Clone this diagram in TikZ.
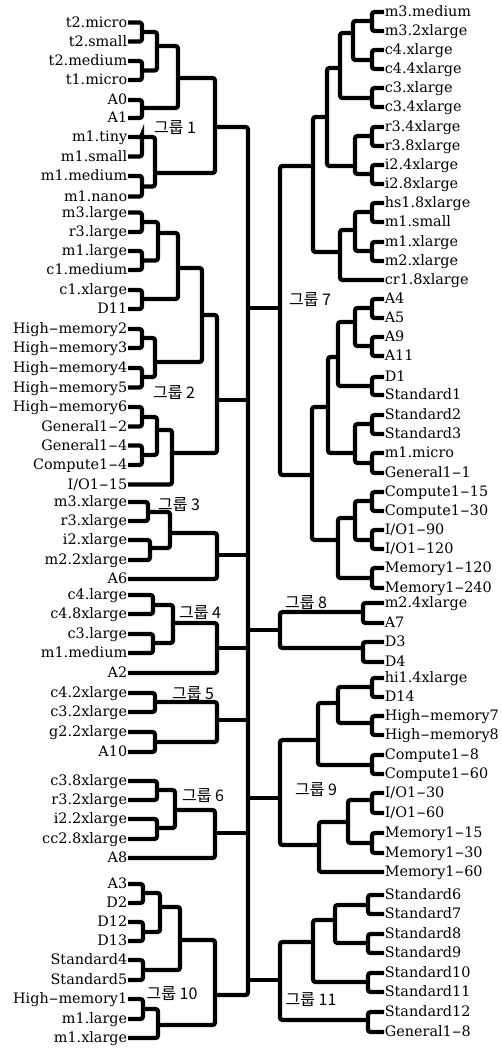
\documentclass[tikz,border=0pt]{standalone}
\usepackage{fontspec}
\setmainfont{DejaVu Serif}
\newfontfamily\kr{Noto Sans CJK KR}
\newcommand\hy{\scalebox{2}[1]{-}}
\newcommand\jn[5]{\coordinate (#5) at (#3,#4); \draw[br] (#1) -| (#5) |- (#2);}
\tikzset{
  br/.style={line width=4.2pt, rounded corners=2.5pt},
  lf/.style={inner sep=0.6pt, text height=9.5pt, text depth=0pt, font=\fontsize{14.4}{15}\selectfont},
  ll/.style={lf, anchor=east},
  rl/.style={lf, anchor=west},
  gl/.style={font=\kr\fontsize{16}{17}\selectfont, inner sep=0pt}
}
\begin{document}
\begin{tikzpicture}[x=1pt,y=-1pt]
\useasboundingbox (0,0) rectangle (502,1051);
% ---------- left leaves ----------
\foreach \n/\y/\t in {
 1/22.5/{t2.micro}, 2/41.5/{t2.small}, 3/61/{t2.medium}, 4/80/{t1.micro}, 5/100/{A0}, 6/118/{A1},
 7/137/{m1.tiny}, 8/156.5/{m1.small}, 9/176/{m1.medium}, 10/196.5/{m1.nano},
 11/212.5/{m3.large}, 12/232/{r3.large}, 13/251/{m1.large}, 14/270/{c1.medium}, 15/290/{c1.xlarge}, 16/309/{D11},
 17/329/{High\hy memory2}, 18/348/{High\hy memory3}, 19/368/{High\hy memory4}, 20/387.5/{High\hy memory5},
 21/407/{High\hy memory6}, 22/426.5/{General1\hy 2}, 23/445.5/{General1\hy 4}, 24/465/{Compute1\hy 4}, 25/484.5/{I/O1\hy 15},
 26/502/{m3.xlarge}, 27/521/{r3.xlarge}, 28/540/{i2.xlarge}, 29/560/{m2.2xlarge}, 30/579/{A6},
 31/595/{c4.large}, 32/614/{c4.8xlarge}, 33/634/{c3.large}, 34/653/{m1.medium}, 35/673/{A2},
 36/693/{c4.2xlarge}, 37/712/{c3.2xlarge}, 38/732/{g2.2xlarge}, 39/752/{A10},
 40/781/{c3.8xlarge}, 41/800/{r3.2xlarge}, 42/819/{i2.2xlarge}, 43/839/{cc2.8xlarge}, 44/858/{A8},
 45/884/{A3}, 46/903/{D2}, 47/922/{D12}, 48/941/{D13}, 49/960/{Standard4}, 50/980/{Standard5},
 51/999/{High\hy memory1}, 52/1019/{m1.large}, 53/1038/{m1.xlarge}}
 \node[ll] (L\n) at (128,\y) {\t};
% ---------- right leaves ----------
\foreach \n/\y/\t in {
 1/12/{m3.medium}, 2/31/{m3.2xlarge}, 3/50/{c4.xlarge}, 4/69/{c4.4xlarge}, 5/88/{c3.xlarge}, 6/107/{c3.4xlarge},
 7/127/{r3.4xlarge}, 8/146/{r3.8xlarge}, 9/165/{i2.4xlarge}, 10/184/{i2.8xlarge},
 11/203/{hs1.8xlarge}, 12/222/{m1.small}, 13/242/{m1.xlarge}, 14/261/{m2.xlarge}, 15/280/{cr1.8xlarge},
 16/299/{A4}, 17/318/{A5}, 18/337/{A9}, 19/356/{A11}, 20/377/{D1}, 21/395/{Standard1},
 22/415/{Standard2}, 23/434/{Standard3}, 24/453/{m1.micro}, 25/473/{General1\hy 1},
 26/492/{Compute1\hy 15}, 27/511/{Compute1\hy 30}, 28/530/{I/O1\hy 90}, 29/549/{I/O1\hy 120},
 30/568/{Memory1\hy 120}, 31/588/{Memory1\hy 240},
 32/603/{m2.4xlarge}, 33/623/{A7}, 34/642/{D3}, 35/662/{D4},
 36/678/{hi1.4xlarge}, 37/697/{D14}, 38/716/{High\hy memory7}, 39/735/{High\hy memory8},
 40/755/{Compute1\hy 8}, 41/774/{Compute1\hy 60}, 42/793/{I/O1\hy 30}, 43/813/{I/O1\hy 60},
 44/833/{Memory1\hy 15}, 45/853/{Memory1\hy 30}, 46/872/{Memory1\hy 60},
 47/895/{Standard6}, 48/914/{Standard7}, 49/934/{Standard8}, 50/953/{Standard9},
 51/973/{Standard10}, 52/992/{Standard11}, 53/1012/{Standard12}, 54/1032/{General1\hy 8}}
 \node[rl] (R\n) at (384,\y) {\t};
% ---------- left tree ----------
% group 1
\jn{L1}{L2}{142}{32}{a1}
\jn{L3}{L4}{142}{70.5}{a2}
\jn{a1}{a2}{157}{46}{a3}
\jn{L5}{L6}{142}{108}{a4}
\jn{a3}{a4}{178}{78}{a5}
\jn{L7}{L8}{142}{137}{a7}
\jn{L9}{L10}{142}{186.5}{a6}
\jn{a7}{a6}{155}{173}{a8}
\jn{a5}{a8}{215}{127}{a9}
% group 2
\jn{L11}{L12}{142}{222}{b1}
\jn{L13}{L14}{142}{260.5}{b2}
\jn{b1}{b2}{158}{233}{b3}
\jn{L15}{L16}{142}{299}{b4}
\jn{b3}{b4}{178}{268}{b5}
\jn{L17}{L18}{142}{338}{b6}
\jn{L19}{L20}{142}{377}{b7}
\jn{b6}{b7}{155}{362}{b8}
\jn{b5}{b8}{202}{315}{b9}
\jn{L21}{L22}{142}{417}{b10}
\jn{L23}{L24}{142}{455}{b11}
\jn{b10}{b11}{157}{430}{b12}
\jn{b12}{L25}{172}{453}{b13}
\jn{b9}{b13}{217}{400}{b14}
% group 3
\jn{L26}{L27}{148}{512}{c1}
\jn{L28}{L29}{150}{548}{c2}
\jn{c1}{c2}{170}{533}{c3}
\jn{c3}{L30}{217}{555}{c4}
% group 4
\jn{L31}{L32}{153}{605}{d1}
\jn{L33}{L34}{153}{643}{d2}
\jn{d1}{d2}{173}{623}{d3}
\jn{d3}{L35}{217}{648}{d4}
% group 5
\jn{L36}{L37}{155}{702}{e1}
\jn{L38}{L39}{155}{742}{e2}
\jn{e1}{e2}{217}{720}{e3}
% group 6
\jn{L40}{L41}{157}{790}{f1}
\jn{L42}{L43}{157}{828}{f2}
\jn{f1}{f2}{175}{810}{f3}
\jn{f3}{L44}{215}{833}{f4}
% group 10
\jn{L45}{L46}{143}{893}{g1}
\jn{L47}{L48}{143}{932}{g2}
\jn{g1}{g2}{160}{907}{g3}
\jn{L49}{L50}{143}{970}{g4}
\jn{g3}{g4}{180}{940}{g5}
\jn{L51}{L52}{143}{1009}{g6}
\jn{g6}{L53}{158}{1025}{g7}
\jn{g5}{g7}{215}{995}{g8}
% ---------- right tree ----------
% group 7
\jn{R1}{R2}{372}{21}{p1}
\jn{R3}{R4}{372}{60}{p2}
\jn{p1}{p2}{353}{33}{p3}
\jn{R5}{R6}{372}{98}{p4}
\jn{p3}{p4}{340}{68}{p5}
\jn{R7}{R8}{372}{136}{p6}
\jn{R9}{R10}{372}{174}{p7}
\jn{p6}{p7}{355}{166}{p8}
\jn{p5}{p8}{327}{117}{p9}
\jn{R11}{R12}{372}{212}{p10}
\jn{R13}{R14}{372}{251}{p11}
\jn{p10}{p11}{355}{230}{p12}
\jn{p12}{R15}{340}{252}{p13}
\jn{p9}{p13}{313}{166}{p14}
\jn{R16}{R17}{372}{308}{p15}
\jn{R18}{R19}{372}{346}{p16}
\jn{p15}{p16}{355}{322}{p17}
\jn{R20}{R21}{372}{386}{p18}
\jn{p17}{p18}{338}{357}{p19}
\jn{R22}{R23}{372}{424}{p20}
\jn{R24}{R25}{372}{463}{p21}
\jn{p20}{p21}{355}{453}{p22}
\jn{p19}{p22}{328}{407}{p23}
\jn{R26}{R27}{372}{501}{p24}
\jn{R28}{R29}{372}{540}{p25}
\jn{p24}{p25}{355}{518}{p26}
\jn{R30}{R31}{372}{578}{p27}
\jn{p26}{p27}{338}{540}{p28}
\jn{p23}{p28}{312}{475}{p29}
\jn{p14}{p29}{280}{308}{p30}
% group 8
\jn{R32}{R33}{363}{612}{q1}
\jn{R34}{R35}{363}{648}{q2}
\jn{q1}{q2}{280}{630}{q3}
% group 9
\jn{R36}{R37}{372}{687}{s1}
\jn{R38}{R39}{372}{723}{s2}
\jn{s1}{s2}{338}{703}{s3}
\jn{R40}{R41}{372}{765}{s4}
\jn{s3}{s4}{318}{740}{s5}
\jn{R42}{R43}{372}{800}{s6}
\jn{R44}{R45}{372}{843}{s7}
\jn{s6}{s7}{348}{822}{s8}
\jn{s8}{R46}{319}{845}{s9}
\jn{s5}{s9}{280}{798}{s10}
% group 11
\jn{R47}{R48}{368}{905}{t1}
\jn{R49}{R50}{368}{943}{t2}
\jn{t1}{t2}{335}{920}{t3}
\jn{R51}{R52}{368}{982}{t4}
\jn{t3}{t4}{313}{942}{t5}
\jn{R53}{R54}{368}{1020}{t6}
\jn{t5}{t6}{280}{980}{t7}
% ---------- main trunk ----------
\jn{a9}{g8}{248}{500}{M}
\foreach \k in {b14,c4,d4,e3,f4,p30,q3,s10,t7}
  \draw[br] (\k) -- (\k -| M);
% ---------- group labels ----------
\node[gl] (G1) at (175,128) {그룹 1};
\node[gl] (G2) at (174,393) {그룹 2};
\node[gl] (G3) at (179,505) {그룹 3};
\node[gl] (G4) at (200,613) {그룹 4};
\node[gl] (G5) at (193,694) {그룹 5};
\node[gl] (G6) at (203,796) {그룹 6};
\node[gl] (G10) at (172,994) {그룹 10};
\node[gl] (G7) at (310,300) {그룹 7};
\node[gl] (G8) at (306,603) {그룹 8};
\node[gl] (G9) at (316,790) {그룹 9};
\node[gl] (G11) at (311,1000) {그룹 11};
\end{tikzpicture}
\end{document}
